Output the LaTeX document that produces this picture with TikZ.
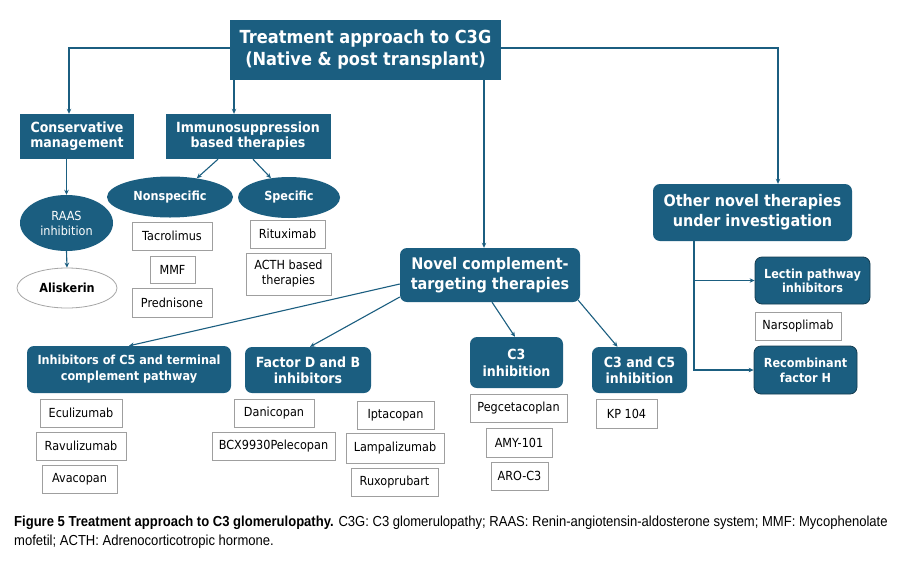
\documentclass[tikz,border=0pt]{standalone}
\usepackage{fontspec}
\usetikzlibrary{shapes.geometric,arrows.meta}
\newfontfamily\dvs[FakeStretch=0.9]{DejaVu Sans}
\newfontfamily\capfont[FakeStretch=0.9]{Liberation Sans}
\definecolor{cblue}{RGB}{27,94,128}
\definecolor{dborder}{RGB}{20,60,80}
\newcommand{\fs}[2]{\fontsize{#1}{#2}\selectfont}
\begin{document}
\begin{tikzpicture}[x=1pt,y=-1pt,
  hbox/.style={fill=cblue,text=white,align=center,inner sep=0pt,font=\dvs\bfseries},
  rbox/.style={hbox,rounded corners=7pt},
  drug/.style={draw=gray!75,line width=0.8pt,fill=white,inner sep=0pt,align=center,font=\dvs\fs{12.5}{15}},
  ell/.style={ellipse,fill=cblue,text=white,inner sep=0pt,align=center},
  arr/.style={draw=cblue,line width=1.1pt,-{Stealth[length=5pt,width=4.5pt]}},
  ln/.style={draw=cblue,line width=1.1pt}]
\useasboundingbox[fill=white] (0,0) rectangle (900,579);

% headers
\node[hbox,font=\dvs\bfseries\fs{18}{22},minimum width=271pt,minimum height=60pt] (main) at (365.5,50) {Treatment approach to C3G\\(Native \& post transplant)};
\node[hbox,font=\dvs\bfseries\fs{14}{15},minimum width=114pt,minimum height=45pt] (cons) at (77,136.5) {Conservative\\management};
\node[hbox,font=\dvs\bfseries\fs{14}{15},minimum width=165pt,minimum height=45pt] (imm) at (248,136.5) {Immunosuppression\\based therapies};
\node[ell,font=\dvs\bfseries\fs{12.5}{15},minimum width=126pt,minimum height=41pt] (nons) at (170,197) {Nonspecific};
\node[ell,font=\dvs\bfseries\fs{12.5}{15},minimum width=102pt,minimum height=41pt] (spec) at (289,197.5) {Specific};
\node[ell,font=\dvs\fs{12.5}{15},minimum width=93pt,minimum height=56pt] (raas) at (66.5,223) {RAAS\\inhibition};
\node[ellipse,draw=gray!70,line width=0.8pt,fill=white,inner sep=0pt,font=\dvs\bfseries\fs{12.5}{15},minimum width=100pt,minimum height=40pt] (alis) at (67,288) {Aliskerin};

\node[rbox,font=\dvs\bfseries\fs{16}{20},minimum width=180pt,minimum height=54pt] (novel) at (490,275) {Novel complement-\\targeting therapies};
\node[rbox,font=\dvs\bfseries\fs{16}{20},minimum width=199pt,minimum height=57pt] (other) at (752.5,212.5) {Other novel therapies\\under investigation};
\node[rbox,draw=dborder,line width=0.8pt,font=\dvs\bfseries\fs{12.5}{14},minimum width=115pt,minimum height=47pt] (lect) at (812.5,280.5) {Lectin pathway\\inhibitors};
\node[rbox,draw=dborder,line width=0.8pt,font=\dvs\bfseries\fs{12.5}{15},minimum width=103pt,minimum height=48pt] (recf) at (805.5,370) {Recombinant\\factor H};

\node[rbox,font=\dvs\bfseries\fs{12.5}{16},minimum width=204pt,minimum height=47pt] (inh5) at (129,369.5) {Inhibitors of C5 and terminal\\complement pathway};
\node[rbox,font=\dvs\bfseries\fs{14}{16},minimum width=126pt,minimum height=46pt] (fdb) at (308,370) {Factor D and B\\inhibitors};
\node[rbox,font=\dvs\bfseries\fs{14}{17},minimum width=93pt,minimum height=51pt] (c3i) at (516.5,362.5) {C3\\inhibition};
\node[rbox,font=\dvs\bfseries\fs{14}{16},minimum width=95pt,minimum height=46pt] (c35) at (639.5,370) {C3 and C5\\inhibition};

% drug boxes
\node[drug,minimum width=80pt,minimum height=28pt] (tac) at (172,236) {Tacrolimus};
\node[drug,minimum width=45pt,minimum height=27pt] (mmf) at (172.5,269.5) {MMF};
\node[drug,minimum width=80pt,minimum height=29pt] (pred) at (172,302.5) {Prednisone};
\node[drug,minimum width=75pt,minimum height=28pt] (ritu) at (287.5,234) {Rituximab};
\node[drug,minimum width=85pt,minimum height=42pt] (acth) at (288.5,274) {ACTH based\\therapies};
\node[drug,minimum width=86pt,minimum height=28pt] (nars) at (798,326) {Narsoplimab};
\node[drug,minimum width=82pt,minimum height=28pt] (ecu) at (81,413) {Eculizumab};
\node[drug,minimum width=90pt,minimum height=28pt] (ravu) at (81,446) {Ravulizumab};
\node[drug,minimum width=75pt,minimum height=28pt] (avac) at (79.5,479) {Avacopan};
\node[drug,minimum width=80pt,minimum height=28pt] (dani) at (274,413) {Danicopan};
\node[drug,minimum width=123pt,minimum height=28pt] (bcx) at (273.5,446) {BCX9930Pelecopan};
\node[drug,minimum width=77pt,minimum height=28pt] (ipta) at (395.5,415) {Iptacopan};
\node[drug,minimum width=98pt,minimum height=30pt] (lamp) at (395,448) {Lampalizumab};
\node[drug,minimum width=87pt,minimum height=28pt] (ruxo) at (394.5,482) {Ruxoprubart};
\node[drug,minimum width=97pt,minimum height=28pt] (pegc) at (518.5,408) {Pegcetacoplan};
\node[drug,minimum width=66pt,minimum height=29pt] (amy) at (519,442.5) {AMY-101};
\node[drug,minimum width=57pt,minimum height=28pt] (aro) at (519.5,476) {ARO-C3};
\node[drug,minimum width=61pt,minimum height=29pt] (kp) at (626.5,413.5) {KP 104};

% connectors
\coordinate (xc) at (69,0);
\coordinate (xi) at (234,0);
\coordinate (xn) at (484,0);
\coordinate (xo) at (778,0);
\coordinate (yt) at (0,48);
\coordinate (tr) at (694,0);
\draw[arr] (main.west |- yt) -| (cons.north -| xc);
\draw[arr] (main.south -| xi) -- (imm.north -| xi);
\draw[arr] (main.south -| xn) -- (novel.north -| xn);
\draw[arr] (main.east |- yt) -| (other.north -| xo);
\draw[arr] (cons.south -| raas.north) -- (raas.north);
\draw[arr] (raas.south) -- (alis.north);
\draw[arr] ([xshift=-30pt]imm.south) -- (nons.35);
\draw[arr] ([xshift=5pt]imm.south) -- (spec.133);
\draw[arr] ([yshift=-9pt]novel.west) -- (inh5.north);
\draw[arr] ([yshift=-22pt]novel.west) -- ([xshift=2pt]fdb.north);
\draw[arr] ([xshift=2pt]novel.south) -- ([xshift=-1.5pt]c3i.north);
\draw[arr] ([xshift=-2pt,yshift=2pt]novel.south east) -- ([xshift=-22pt]c35.north);
\draw[arr] (other.south -| tr) |- (recf.west);
\draw[arr] (lect.west -| tr) -- (lect.west);

% caption
\node[anchor=base west,align=left,inner sep=0pt,font=\capfont\fs{14.5}{18.5}] (cap) at (14,545)
{{\bfseries Figure 5 Treatment approach to C3 glomerulopathy.} C3G: C3 glomerulopathy; RAAS: Renin-angiotensin-aldosterone system; MMF: Mycophenolate\\mofetil; ACTH: Adrenocorticotropic hormone.};
\end{tikzpicture}
\end{document}
